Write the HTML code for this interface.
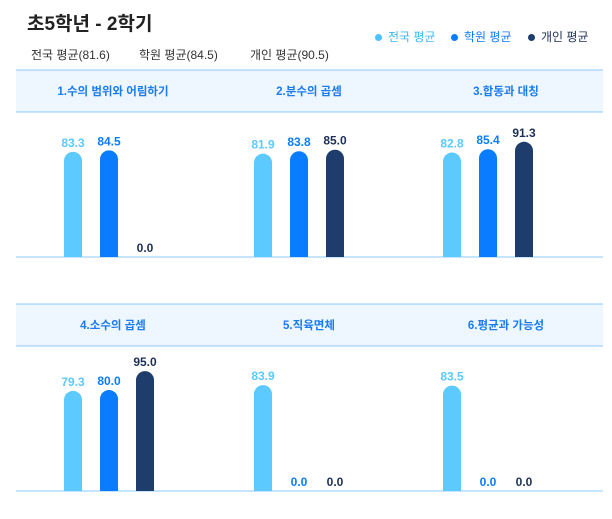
<!DOCTYPE html>
<html><head><meta charset="utf-8"><style>
body{margin:0;width:612px;height:519px;background:#fff;font-family:"Liberation Sans","Noto Sans CJK KR",sans-serif;overflow:hidden;position:relative}
.t{position:absolute;white-space:nowrap}
</style></head><body>
<div class="t" style="left:27px;top:9px;font-size:19px;font-weight:bold;color:#222">초5학년 - 2학기</div>
<div class="t" style="left:31px;top:46px;font-size:12px;color:#333">전국 평균(81.6)</div>
<div class="t" style="left:139px;top:46px;font-size:12px;color:#333">학원 평균(84.5)</div>
<div class="t" style="left:250px;top:46px;font-size:12px;color:#333">개인 평균(90.5)</div>
<div class="t" style="left:375px;top:28px;font-size:12px;color:#3bb8f5"><span style="display:inline-block;width:7px;height:7px;border-radius:50%;background:#4cc3ff;margin-right:6px"></span>전국 평균</div>
<div class="t" style="left:451px;top:28px;font-size:12px;color:#0a7cff"><span style="display:inline-block;width:7px;height:7px;border-radius:50%;background:#0a7cff;margin-right:6px"></span>학원 평균</div>
<div class="t" style="left:528px;top:28px;font-size:12px;color:#1e2f55"><span style="display:inline-block;width:7px;height:7px;border-radius:50%;background:#1e3d6c;margin-right:6px"></span>개인 평균</div>
<svg id="c" width="612" height="519" style="position:absolute;left:0;top:0"></svg>
<script>
const categories=["1.수의 범위와 어림하기","2.분수의 곱셈","3.합동과 대칭","4.소수의 곱셈","5.직육면체","6.평균과 가능성"];
const national=[83.3,81.9,82.8,79.3,83.9,83.5];
const academy=[84.5,83.8,85.4,80.0,0.0,0.0];
const personal=[0.0,85.0,91.3,95.0,0.0,0.0];
const svg=document.getElementById('c');
const NS="http://www.w3.org/2000/svg";
const colors=["#5cc9ff","#0a7cff","#1e3d6c"];
const labelColors=["#5cc9ff","#0a7cff","#1e2f55"];
const series=[national,academy,personal];
const rows=[{top:70,base:257},{top:304,base:491}];
const colCenters=[109,299,488];
const titleCenters=[113,309,506];
const k=1.262;
function y(v,base){return base-v*k;}
function mk(t,a){const e=document.createElementNS(NS,t);for(const n in a)e.setAttribute(n,a[n]);svg.appendChild(e);return e;}
rows.forEach((r,ri)=>{
  const band=mk('rect',{x:16,y:r.top,width:587,height:42,fill:'#eef6ff'});
  
  
  mk('line',{x1:16,x2:603,y1:r.top,y2:r.top,stroke:'#8cc8ff','stroke-width':1});
  mk('line',{x1:16,x2:603,y1:r.top+42,y2:r.top+42,stroke:'#8cc8ff','stroke-width':1});
  const bl=mk('line',{x1:16,x2:603,y1:r.base,y2:r.base,stroke:'#8cc8ff','stroke-width':1});
  
  
});
categories.forEach((c,i)=>{
  const r=rows[Math.floor(i/3)],col=i%3;
  const tt=mk('text',{x:titleCenters[col],y:r.top+25,'text-anchor':'middle','font-size':11.5,'font-weight':'bold',fill:'#1a7cf0'});
  tt.textContent=c;
  
  
  series.forEach((s,si)=>{
    const v=s[i],cx=colCenters[col]+(si-1)*36,w=18,top=y(v,r.base),h=r.base-top;
    if(h>0){
      const p=mk('path',{d:`M${cx-w/2},${r.base} V${top+w/2} A${w/2},${w/2} 0 0 1 ${cx+w/2},${top+w/2} V${r.base} Z`,fill:colors[si]});
      
      
    }
    const lb=mk('text',{x:cx,y:top-5,'text-anchor':'middle','font-size':12,'font-weight':'bold',fill:labelColors[si]});
    lb.textContent=v.toFixed(1);
    
    
  });
});
</script>
</body></html>
